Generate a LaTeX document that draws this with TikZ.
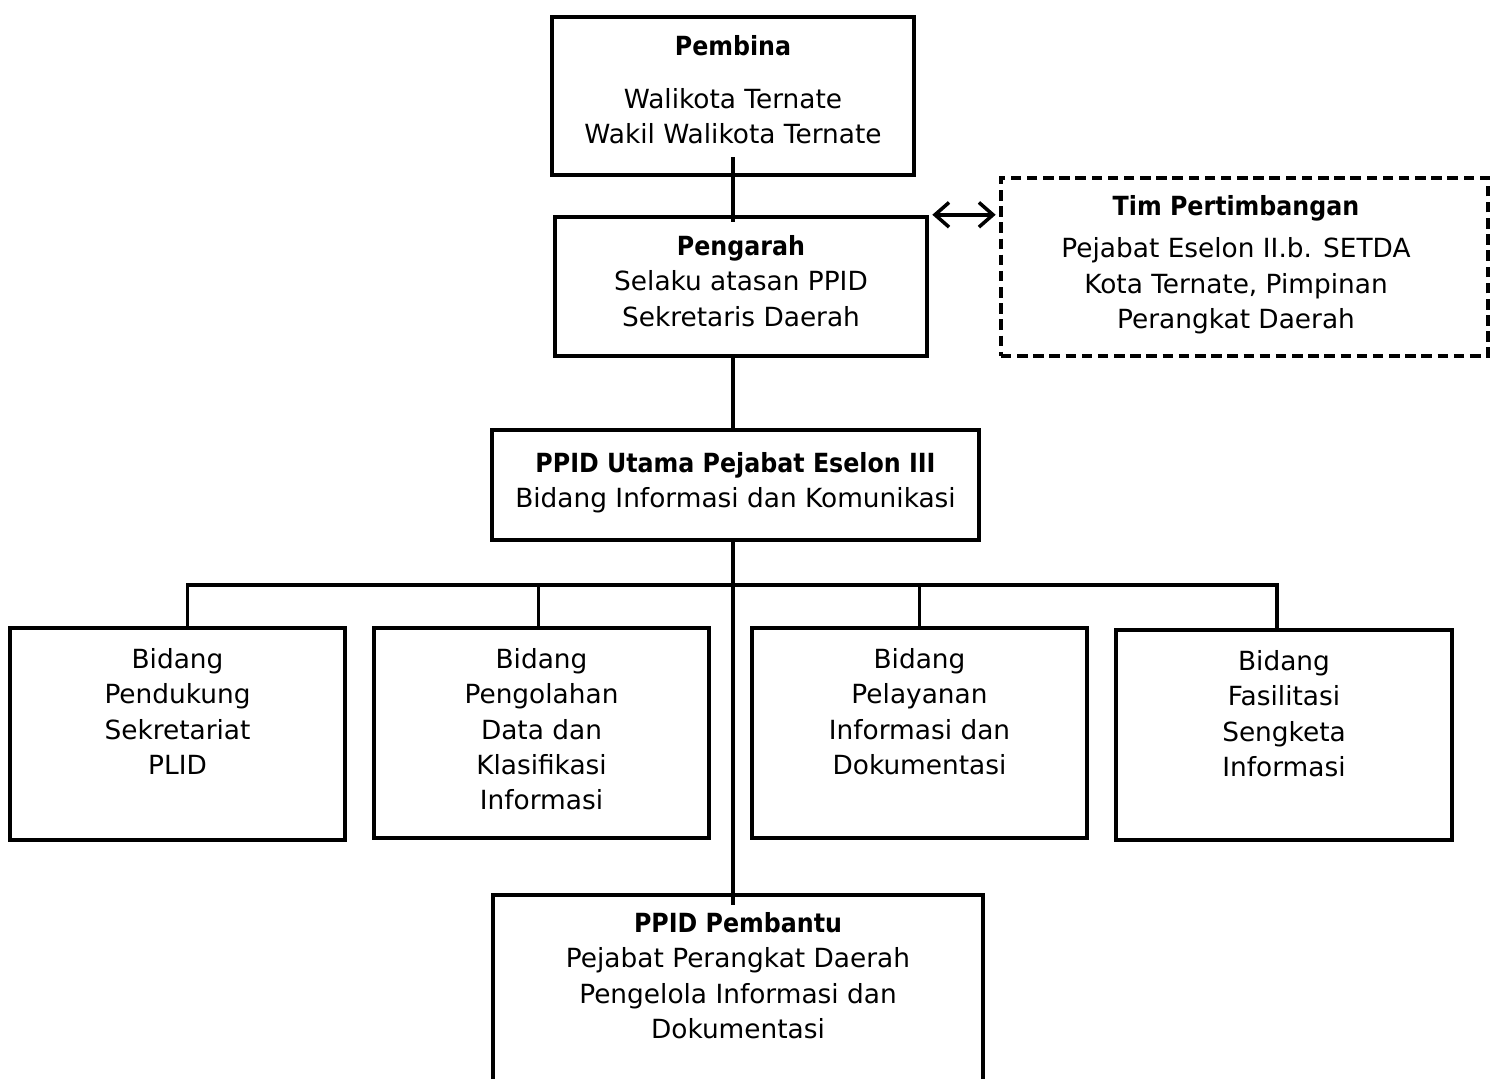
\documentclass[tikz,border=0pt]{standalone}
\usepackage{fontspec}
\setmainfont{DejaVu Sans}[BoldFeatures={FakeStretch=0.9}]
\usetikzlibrary{arrows.meta}

\begin{document}
\begin{tikzpicture}[x=0.01cm, y=-0.01cm,
  box/.style={draw, line width=1.25pt, inner sep=0pt},
  dashbox/.style={box, dash pattern=on 3pt off 1.6pt},
  txt/.style={align=center, inner sep=0pt, anchor=north, font=\fontsize{7.5}{10}\selectfont},
  conn/.style={line width=1pt}]

\useasboundingbox (0,0) rectangle (1500,1078);
\clip (0,0) rectangle (1500,1078);

\node[box, minimum width=3.62cm, minimum height=1.58cm] (pembina) at (733,96) {};
\node[box, minimum width=3.72cm, minimum height=1.39cm] (pengarah) at (741,286.5) {};
\node[dashbox, minimum width=4.87cm, minimum height=1.78cm] (tim) at (1244.5,267) {};
\node[box, minimum width=4.87cm, minimum height=1.10cm] (utama) at (735.5,485) {};

\node[box, minimum width=3.35cm, minimum height=2.12cm] (b1) at (177.5,734) {};
\node[box, minimum width=3.35cm, minimum height=2.10cm] (b2) at (541.5,733) {};
\node[box, minimum width=3.35cm, minimum height=2.10cm] (b3) at (919.5,733) {};
\node[box, minimum width=3.36cm, minimum height=2.10cm] (b4) at (1284,735) {};

\node[box, minimum width=4.90cm, minimum height=2.05cm] (pembantu) at (738,997.5) {};

\node[txt] (pembinatxt) at (733,35) {\textbf{Pembina}\\[5pt]Walikota Ternate\\Wakil Walikota Ternate};
\node[txt] (pengarahtxt) at (741,235) {\textbf{Pengarah}\\Selaku atasan PPID\\Sekretaris Daerah};
\node[txt] (timtxt) at (1236,195) {\textbf{Tim Pertimbangan}\\[2pt]Pejabat Eselon II.b. SETDA\\Kota Ternate, Pimpinan\\Perangkat Daerah};
\node[txt] (utamatxt) at (735.5,452) {\textbf{PPID Utama Pejabat Eselon III}\\Bidang Informasi dan Komunikasi};

\node[txt] (b1txt) at (177.5,648) {Bidang\\Pendukung\\Sekretariat\\PLID};
\node[txt] (b2txt) at (541.5,648) {Bidang\\Pengolahan\\Data dan\\Klasifikasi\\Informasi};
\node[txt] (b3txt) at (919.5,648) {Bidang\\Pelayanan\\Informasi dan\\Dokumentasi};
\node[txt] (b4txt) at (1284,650) {Bidang\\Fasilitasi\\Sengketa\\Informasi};

\node[txt] (pembantutxt) at (738,912) {\textbf{PPID Pembantu}\\Pejabat Perangkat Daerah\\Pengelola Informasi dan\\Dokumentasi};

\coordinate (bus) at (733,585);

\draw[conn] ([yshift=0.2cm]pembina.south) -- ([yshift=-0.07cm]pembina.south |- pengarah.north);
\draw[conn, {Straight Barb[length=4pt,width=7pt]}-{Straight Barb[length=4pt,width=7pt]}] ([xshift=0.03cm]pengarah.north east) -- ([xshift=-0.03cm]tim.west |- pengarah.north east);
\draw[conn] (bus |- pengarah.south) -- (bus |- utama.north);
\draw[conn] (bus |- utama.south) -- ([yshift=-0.12cm]bus |- pembantu.north);

\draw[conn] ([xshift=0.1cm]b1.north) |- (bus) -| ([xshift=-0.07cm]b4.north);
\draw[conn] ([xshift=-0.03cm]b2.north) -- ([xshift=-0.03cm]b2.north |- bus);
\draw[conn] (b3.north) -- (b3.north |- bus);

\end{tikzpicture}
\end{document}
